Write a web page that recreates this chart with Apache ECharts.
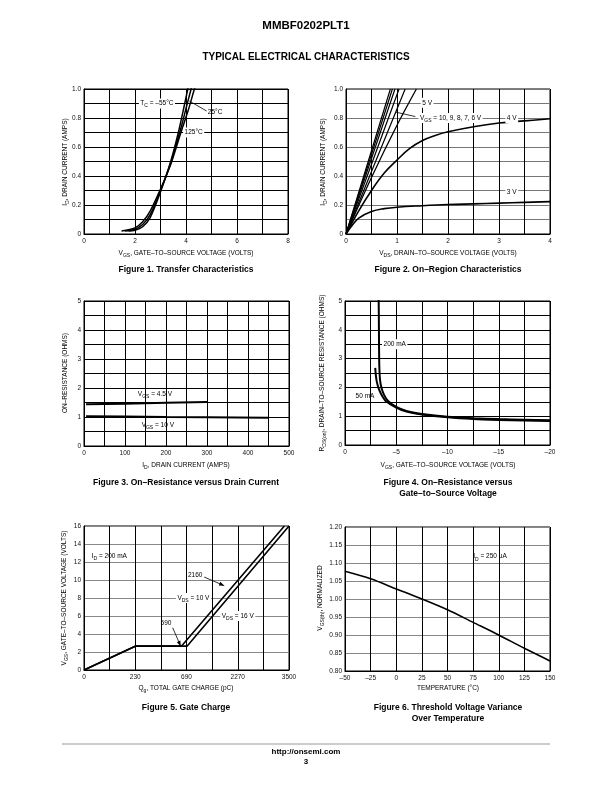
<!DOCTYPE html>
<html><head><meta charset="utf-8">
<script src="https://cdn.jsdelivr.net/npm/echarts@6/dist/echarts.min.js"></script>
<style>html,body{margin:0;padding:0;background:#fff}#c{width:612px;height:792px}</style>
</head><body><div id="c"></div>
<script>
// ---------------- DATA ----------------
// Figure 1: drain current ID (A) vs VGS (V)
const fig1_tm55 = [[1.75,0.02],[2.0,0.025],[2.3,0.05],[2.6,0.115],[3.0,0.29],[3.4,0.5],[3.7,0.7],[3.95,0.9],[4.07,1.0],[4.12,1.05]];
const fig1_t25  = [[1.6,0.02],[2.0,0.033],[2.3,0.065],[2.6,0.135],[3.0,0.3],[3.4,0.49],[3.8,0.73],[4.05,0.9],[4.2,1.0],[4.25,1.04]];
const fig1_t125 = [[1.47,0.02],[2.0,0.042],[2.3,0.085],[2.6,0.16],[3.0,0.31],[3.4,0.48],[3.8,0.7],[4.1,0.86],[4.33,1.0],[4.4,1.03]];
// Figure 2: ID (A) vs VDS (V)
const fig2_v10 = [[0,0],[0.435,0.5],[0.87,1.0]];
const fig2_v9  = [[0,0],[0.455,0.5],[0.91,1.0]];
const fig2_v8  = [[0,0],[0.48,0.5],[0.96,1.0]];
const fig2_v7  = [[0,0],[0.52,0.5],[1.04,1.0]];
const fig2_v6  = [[0,0],[0.58,0.5],[1.16,1.0]];
const fig2_v5  = [[0,0],[0.5,0.39],[1.0,0.75],[1.38,1.0]];
const fig2_v4  = [[0,0],[0.25,0.16],[0.5,0.3],[0.75,0.42],[1.0,0.51],[1.25,0.59],[1.5,0.645],[1.75,0.68],[2.0,0.705],[2.5,0.74],[3.0,0.765],[3.5,0.78],[4.0,0.795]];
const fig2_v3  = [[0,0],[0.1,0.05],[0.25,0.11],[0.5,0.155],[0.75,0.175],[1.0,0.185],[1.5,0.195],[2.0,0.203],[2.5,0.208],[3.0,0.213],[3.5,0.218],[4.0,0.223]];
// Figure 3: on-resistance (ohms) vs ID
const fig3_v45 = [[5,1.44],[100,1.46],[200,1.49],[300,1.52]];
const fig3_v10 = [[5,1.03],[100,1.02],[200,1.0],[300,0.99],[450,0.97]];
// Figure 4: RDS(on) (ohms) vs VGS (V)
const fig4_200mA = [[-3.28,5.2],[-3.3,4.5],[-3.32,3.5],[-3.35,2.7],[-3.42,2.25],[-3.55,2.0],[-3.8,1.75],[-4.2,1.53],[-5,1.32],[-6,1.18],[-7.5,1.08],[-10,0.98],[-12.5,0.93],[-15,0.9],[-17.5,0.88],[-20,0.86]];
const fig4_50mA  = [[-2.95,2.68],[-3.0,2.45],[-3.1,2.2],[-3.3,1.95],[-3.6,1.72],[-4.0,1.52],[-5,1.3],[-6,1.16],[-7.5,1.06],[-10,0.96],[-12.5,0.9],[-15,0.87],[-17.5,0.85],[-20,0.83]];
// Figure 5: VGS (V) vs gate charge (x in axis-division units; tick labels below)
const fig5_tickLabels = ['0','','230','','690','','2270','','3500'];
const fig5_vds10 = [[0,0],[2,2.65],[3.8,2.65],[7.82,16]];
const fig5_vds16 = [[0,0],[2,2.65],[4.02,2.65],[8,16]];
// Figure 6: normalized VGS(th) vs temperature (°C)
const fig6_vth = [[-50,1.077],[-25,1.056],[0,1.028],[25,1.0],[50,0.97],[75,0.935],[100,0.9],[125,0.863],[150,0.828]];

// ---------------- LAYOUT / STYLE ----------------
const FONT = "'Liberation Sans', Arial, Helvetica, sans-serif";
const chart = echarts.init(document.getElementById('c'));

const grids = [
  {left:84, top:89, width:204, height:145},
  {left:346, top:89, width:204, height:145},
  {left:84, top:301, width:205, height:145},
  {left:345, top:301, width:205, height:144},
  {left:84, top:526, width:205, height:144},
  {left:345, top:527, width:205, height:144}
].map(g => Object.assign({show:true, borderColor:'#000', borderWidth:1, backgroundColor:'transparent'}, g));

function mult(v, every){ const r = v/every; return Math.abs(r - Math.round(r)) < 1e-6; }
function mk(axisType, gi, min, max, interval, fmt, splitColor, extra){
  return Object.assign({
    type:'value', gridIndex:gi, min, max, interval,
    axisLine:{show:true, onZero:false, lineStyle:{color:'#000', width:1}},
    axisTick:{show:false},
    splitLine:{show:true, lineStyle:{color:splitColor||'#000', width:1}},
    axisLabel:{show:true, formatter:fmt, fontSize:6.5, color:'#111', fontFamily:FONT, margin:axisType==='x'?4:3,
               showMinLabel:true, showMaxLabel:true}
  }, extra||{});
}
const dash = v => v < 0 ? '–' + Math.abs(v) : String(v);
const xAxes = [
  mk('x',0,0,8,1, v => mult(v,2) ? String(Math.round(v)) : ''),
  mk('x',1,0,4,0.5, v => mult(v,1) ? String(Math.round(v)) : ''),
  mk('x',2,0,500,50, v => mult(v,100) ? String(Math.round(v)) : ''),
  mk('x',3,-20,0,2.5, v => mult(v,5) ? (Math.round(v)===0 ? '0' : '–' + Math.abs(Math.round(v))) : '', '#000', {inverse:true}),
  mk('x',4,0,8,1, v => fig5_tickLabels[Math.round(v)] || ''),
  mk('x',5,-50,150,25, v => dash(Math.round(v)))
];
const yAxes = [
  mk('y',0,0,1,0.1, v => mult(v,0.2) ? (Math.abs(v)<1e-9 ? '0' : v.toFixed(1)) : ''),
  mk('y',1,0,1,0.1, v => mult(v,0.2) ? (Math.abs(v)<1e-9 ? '0' : v.toFixed(1)) : '', '#777'),
  mk('y',2,0,5,0.5, v => mult(v,1) ? String(Math.round(v)) : ''),
  mk('y',3,0,5,0.5, v => mult(v,1) ? String(Math.round(v)) : ''),
  mk('y',4,0,16,2, v => String(Math.round(v)), '#888'),
  mk('y',5,0.8,1.2,0.05, v => v.toFixed(2), '#888')
];

function S(gi, data, w, smooth){
  return {type:'line', xAxisIndex:gi, yAxisIndex:gi, data, showSymbol:false, symbol:'none',
          smooth: smooth||false, clip:true, silent:true, animation:false,
          lineStyle:{color:'#000', width:w}};
}
const series = [
  S(0, fig1_tm55, 1.5, 0.3), S(0, fig1_t25, 1.5, 0.3), S(0, fig1_t125, 1.5, 0.3),
  S(1, fig2_v10, 1.2), S(1, fig2_v9, 1.2), S(1, fig2_v8, 1.2), S(1, fig2_v7, 1.2), S(1, fig2_v6, 1.2),
  S(1, fig2_v5, 1.3, 0.3), S(1, fig2_v4, 1.6, 0.4), S(1, fig2_v3, 1.6, 0.4),
  S(2, fig3_v45, 2), S(2, fig3_v10, 2),
  S(3, fig4_200mA, 2, 0.25), S(3, fig4_50mA, 2, 0.25),
  S(4, fig5_vds10, 1.6), S(4, fig5_vds16, 1.6),
  S(5, fig6_vth, 1.6, 0.3)
];

chart.setOption({animation:false, backgroundColor:'#fff', grid:grids, xAxis:xAxes, yAxis:yAxes, series});

// ---------------- TEXT ----------------
function rich(str){
  let out='', re=/_\{([^}]*)\}/g, last=0, m;
  while((m=re.exec(str))){ if(m.index>last) out+='{n|'+str.slice(last,m.index)+'}'; out+='{s|'+m[1]+'}'; last=re.lastIndex; }
  if(last<str.length) out+='{n|'+str.slice(last)+'}';
  return out;
}
const RICH = {
  n:{fontSize:6.5, lineHeight:10, fontFamily:FONT, fill:'#000'},
  s:{fontSize:5, lineHeight:5, verticalAlign:'bottom', fontFamily:FONT, fill:'#000'}
};
const els = [];
function txt(x, y, s, o){
  o = o || {};
  const st = {fill:'#000', align:o.align||'center', verticalAlign:'middle'};
  if(o.bold){ Object.assign(st, {text:s, fontSize:o.size, fontWeight:'bold', fontFamily:FONT}); }
  else { Object.assign(st, {text:rich(s), rich:RICH}); }
  if(o.bg){ st.backgroundColor = '#fff'; st.padding = [0,1.5]; }
  els.push({type:'text', x, y, rotation:o.rot||0, z:100, silent:true, style:st});
}
// page headers/footers
txt(306, 26, 'MMBF0202PLT1', {bold:true, size:11.5});
txt(306, 57, 'TYPICAL ELECTRICAL CHARACTERISTICS', {bold:true, size:10});
els.push({type:'line', z:100, shape:{x1:62, y1:744, x2:550, y2:744}, style:{stroke:'#bbb', lineWidth:1.5}});
txt(306, 752, 'http://onsemi.com', {bold:true, size:8});
txt(306, 762, '3', {bold:true, size:8});
// captions
const cap = {bold:true, size:8.5};
txt(186, 270, 'Figure 1. Transfer Characteristics', cap);
txt(448, 270, 'Figure 2. On–Region Characteristics', cap);
txt(186, 483, 'Figure 3. On–Resistance versus Drain Current', cap);
txt(448, 483, 'Figure 4. On–Resistance versus', cap);
txt(448, 494, 'Gate–to–Source Voltage', cap);
txt(186, 708, 'Figure 5. Gate Charge', cap);
txt(448, 708, 'Figure 6. Threshold Voltage Variance', cap);
txt(448, 719, 'Over Temperature', cap);
// axis titles
const R = Math.PI/2;
txt(186, 253, 'V_{GS}, GATE–TO–SOURCE VOLTAGE (VOLTS)');
txt(448, 253, 'V_{DS}, DRAIN–TO–SOURCE VOLTAGE (VOLTS)');
txt(65, 162, 'I_{D}, DRAIN CURRENT (AMPS)', {rot:R});
txt(323, 162, 'I_{D}, DRAIN CURRENT (AMPS)', {rot:R});
txt(186, 465, 'I_{D}, DRAIN CURRENT (AMPS)');
txt(65, 373, 'ON–RESISTANCE (OHMS)', {rot:R});
txt(448, 465, 'V_{GS}, GATE–TO–SOURCE VOLTAGE (VOLTS)');
txt(322, 373, 'R_{DS(on)}, DRAIN–TO–SOURCE RESISTANCE (OHMS)', {rot:R});
txt(186, 688, 'Q_{g}, TOTAL GATE CHARGE (pC)');
txt(64, 598, 'V_{GS}, GATE–TO–SOURCE VOLTAGE (VOLTS)', {rot:R});
txt(448, 688, 'TEMPERATURE (°C)');
txt(320, 598, 'V_{GS(th)}, NORMALIZED', {rot:R});

// in-plot annotations (anchored in data coordinates)
const annotations = [
  {g:0, at:[2.86,0.9], t:'T_{C} = –55°C', bg:true},
  {g:0, at:[5.14,0.84], t:'25°C'},
  {g:0, at:[4.3,0.7], t:'125°C', bg:true},
  {g:1, at:[1.59,0.905], t:'5 V', bg:true},
  {g:1, at:[2.05,0.8], t:'V_{GS} = 10, 9, 8, 7, 6 V', bg:true},
  {g:1, at:[3.25,0.8], t:'4 V', bg:true},
  {g:1, at:[3.25,0.29], t:'3 V', bg:true},
  {g:2, at:[173,1.79], t:'V_{GS} = 4.5 V'},
  {g:2, at:[180,0.72], t:'V_{GS} = 10 V'},
  {g:3, at:[-4.85,3.5], t:'200 mA', bg:true},
  {g:3, at:[-1.95,1.7], t:'50 mA'},
  {g:4, at:[0.3,12.6], t:'I_{D} = 200 mA', align:'left'},
  {g:4, at:[4.34,10.56], t:'2160'},
  {g:4, at:[3.2,5.19], t:'590'},
  {g:4, at:[4.27,8], t:'V_{DS} = 10 V', bg:true},
  {g:4, at:[6.0,6.0], t:'V_{DS} = 16 V', bg:true},
  {g:5, at:[91.5,1.1175], t:'I_{D} = 250 μA'}
];
const leaders = [
  {g:0, from:[4.13,0.917], to:[4.81,0.848]},
  {g:1, from:[0.98,0.84], to:[1.36,0.81]},
  {g:4, from:[4.69,10.33], to:[5.47,9.37], arrow:true},
  {g:4, from:[3.46,4.7], to:[3.77,2.67], arrow:true}
];
const px = (g, p) => chart.convertToPixel({gridIndex:g}, p);
annotations.forEach(a => { const p = px(a.g, a.at); txt(p[0], p[1], a.t, {bg:a.bg, align:a.align}); });
leaders.forEach(l => {
  const a = px(l.g, l.from), b = px(l.g, l.to);
  els.push({type:'line', z:101, silent:true, shape:{x1:a[0], y1:a[1], x2:b[0], y2:b[1]}, style:{stroke:'#000', lineWidth:0.8}});
  if(l.arrow){
    const dx=b[0]-a[0], dy=b[1]-a[1], L=Math.hypot(dx,dy), ux=dx/L, uy=dy/L, h=5, w=2;
    const bx=b[0]-ux*h, by=b[1]-uy*h;
    els.push({type:'polygon', z:101, silent:true, shape:{points:[[b[0],b[1]],[bx-uy*w,by+ux*w],[bx+uy*w,by-ux*w]]}, style:{fill:'#000'}});
  }
});
chart.setOption({graphic:{elements:els}});
</script>
</body></html>
